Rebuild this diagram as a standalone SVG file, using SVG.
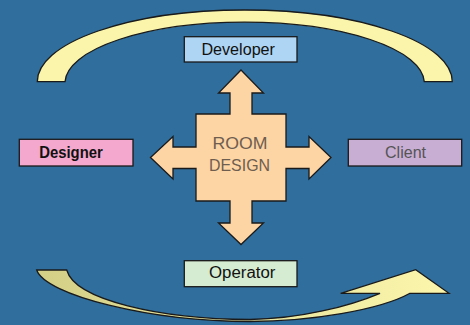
<svg xmlns="http://www.w3.org/2000/svg" width="470" height="325" viewBox="0 0 470 325">
  <defs>
    <linearGradient id="flowFill" x1="0" y1="0" x2="1" y2="0">
      <stop offset="0" stop-color="#d3cf86"/>
      <stop offset="0.55" stop-color="#ece7a0"/>
      <stop offset="1" stop-color="#fbf6ab"/>
    </linearGradient>
    <style>
      .box { stroke: #1a1a1a; stroke-width: 1.3; }
      .lbl { font-family: "Liberation Sans", Arial, sans-serif; font-size: 16px; text-anchor: middle; fill: #111; }
      .flow { stroke: #1a1a1a; stroke-width: 1.3; stroke-linejoin: miter; }
    </style>
  </defs>

  <rect x="0" y="0" width="470" height="325" fill="#2f6e9d"/>

  <!-- connectors: the circulating arcs -->
  <g id="connectors">
    <path class="flow" fill="#faf5aa"
          d="M37.3,81.7 A207.5,71.7 0 0 1 452.3,81.7 L424.3,81.7 A179.7,61 0 0 0 65,81.7 Z"/>
    <path class="flow" fill="url(#flowFill)"
          d="M36.7,270 L66.7,270 C75,300 160,319 250,319.5 C300,319 350,306 380,293.3 L340.7,293.3 L415.7,269.7 L449,293.3 L410,293.3 C380,310 310,321.5 250,321.5 C150,321.5 45,295 36.7,270 Z"/>
  </g>

  <!-- central node with its four arrows -->
  <g id="room-design">
    <path class="box" fill="#fdd4a4"
          d="M241,70 L263.5,93 L252,93 L252,114 L286,114 L286,147 L309,147 L309,136.5 L331,157.5 L309,179 L309,168.5 L286,168.5 L286,201 L252,201 L252,223 L263.5,223 L241,244.5 L218.5,223 L230,223 L230,201 L196,201 L196,168.5 L173,168.5 L173,179 L150.5,157.5 L173,136.5 L173,147 L196,147 L196,114 L230,114 L230,93 L218.5,93 Z"/>
    <text class="lbl" x="240" y="149" style="font-size:16.5px;fill:#6e5e50" textLength="55" lengthAdjust="spacingAndGlyphs">ROOM</text>
    <text class="lbl" x="239.5" y="170.7" style="font-size:16.5px;fill:#6e5e50" textLength="61" lengthAdjust="spacingAndGlyphs">DESIGN</text>
  </g>

  <g id="developer">
    <rect class="box" x="184.3" y="36.7" width="112.7" height="25.3" fill="#aed5f3"/>
    <text class="lbl" x="238.2" y="55" textLength="73.5" lengthAdjust="spacingAndGlyphs">Developer</text>
  </g>

  <g id="designer">
    <rect class="box" x="19.3" y="139.3" width="113.7" height="26.7" fill="#f4a8cd"/>
    <text class="lbl" x="71" y="158.3" style="font-weight:bold" textLength="63.5" lengthAdjust="spacingAndGlyphs">Designer</text>
  </g>

  <g id="client">
    <rect class="box" x="348.3" y="139.3" width="113.4" height="26.7" fill="#c9aed4"/>
    <text class="lbl" x="405.5" y="158.3" style="fill:#555" textLength="41" lengthAdjust="spacingAndGlyphs">Client</text>
  </g>

  <g id="operator">
    <rect class="box" x="184.3" y="260.7" width="112.7" height="26" fill="#d5ecd2"/>
    <text class="lbl" x="242.2" y="278.3" textLength="66.3" lengthAdjust="spacingAndGlyphs">Operator</text>
  </g>
</svg>
